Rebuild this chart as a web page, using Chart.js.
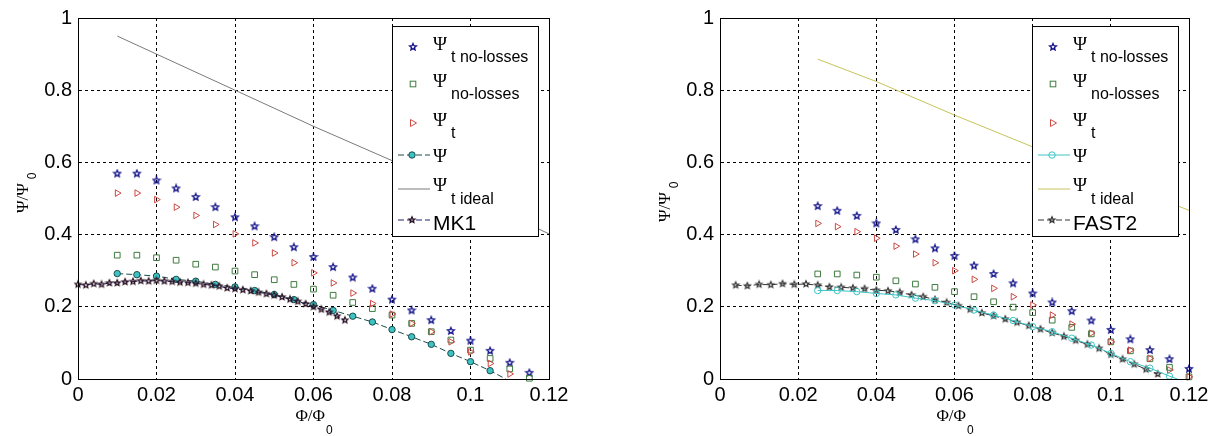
<!DOCTYPE html>
<html>
<head>
<meta charset="utf-8">
<script src="https://cdn.jsdelivr.net/npm/chart.js@4.4.0/dist/chart.umd.min.js"></script>
<style>
  body { margin: 0; background: #fff; }
  .box { position: absolute; top: 0; width: 608px; height: 436px; }
</style>
</head>
<body>
<div class="box" style="left:0"><canvas id="left" width="608" height="436"></canvas></div>
<div class="box" style="left:608px"><canvas id="right" width="608" height="436"></canvas></div>
<script>
// ---- data ----
// left panel (MK1)
const xLeft = [0.01, 0.015, 0.02, 0.025, 0.03, 0.035, 0.04, 0.045, 0.05, 0.055, 0.06,
  0.065, 0.07, 0.075, 0.08, 0.085, 0.09, 0.095, 0.1, 0.105, 0.11, 0.115];
const leftTNoLoss = [0.569, 0.569, 0.55, 0.528, 0.504, 0.476, 0.448, 0.423, 0.393, 0.365, 0.338,
  0.31, 0.281, 0.25, 0.22, 0.19, 0.163, 0.133, 0.106, 0.078, 0.045, 0.017];
const leftNoLoss = [0.343, 0.343, 0.336, 0.329, 0.318, 0.31, 0.299, 0.289, 0.275, 0.262, 0.249,
  0.232, 0.212, 0.195, 0.177, 0.154, 0.131, 0.108, 0.08, 0.057, 0.028, 0.002];
const leftT = [0.515, 0.515, 0.497, 0.476, 0.453, 0.428, 0.402, 0.377, 0.349, 0.322, 0.294,
  0.266, 0.238, 0.209, 0.18, 0.154, 0.131, 0.103, 0.075, 0.043, 0.014];
const xLeftPsi = [0.01, 0.015, 0.02, 0.025, 0.03, 0.035, 0.04, 0.045, 0.05, 0.055, 0.06,
  0.065, 0.07, 0.075, 0.08, 0.085, 0.09, 0.095, 0.1, 0.105, 0.109];
const leftPsi = [0.292, 0.289, 0.285, 0.276, 0.271, 0.262, 0.255, 0.245, 0.234, 0.22, 0.206,
  0.19, 0.174, 0.158, 0.137, 0.117, 0.096, 0.071, 0.048, 0.023, 0];
const xLeftIdeal = [0.01, 0.02, 0.04, 0.06, 0.08, 0.1, 0.12];
const leftIdeal = [0.95, 0.9, 0.8, 0.7, 0.605, 0.505, 0.402];
const xMK1 = [0, 0.002, 0.004, 0.006, 0.008, 0.01, 0.012, 0.014, 0.016, 0.018, 0.02, 0.022,
  0.024, 0.026, 0.028, 0.03, 0.032, 0.034, 0.036, 0.038, 0.04, 0.042, 0.044, 0.046, 0.048,
  0.05, 0.052, 0.054, 0.056, 0.058, 0.06, 0.062, 0.064, 0.066, 0.068];
const yMK1 = [0.262, 0.26, 0.264, 0.262, 0.266, 0.266, 0.269, 0.27, 0.272, 0.271, 0.273, 0.271,
  0.27, 0.268, 0.267, 0.265, 0.262, 0.26, 0.257, 0.252, 0.25, 0.247, 0.244, 0.24, 0.236,
  0.232, 0.227, 0.221, 0.215, 0.208, 0.2, 0.193, 0.185, 0.174, 0.163];

// right panel (FAST2)
const xRight = [0.025, 0.03, 0.035, 0.04, 0.045, 0.05, 0.055, 0.06, 0.065, 0.07, 0.075,
  0.08, 0.085, 0.09, 0.095, 0.1, 0.105, 0.11, 0.115, 0.12];
const rightTNoLoss = [0.479, 0.466, 0.452, 0.431, 0.413, 0.387, 0.362, 0.341, 0.314, 0.291, 0.265,
  0.237, 0.212, 0.188, 0.162, 0.136, 0.11, 0.08, 0.055, 0.028];
const rightNoLoss = [0.291, 0.291, 0.288, 0.282, 0.272, 0.263, 0.254, 0.242, 0.228, 0.214, 0.199,
  0.184, 0.163, 0.143, 0.125, 0.103, 0.078, 0.056, 0.032, 0.006];
const rightT = [0.431, 0.422, 0.408, 0.39, 0.368, 0.346, 0.322, 0.3, 0.276, 0.251, 0.228,
  0.205, 0.177, 0.152, 0.127, 0.103, 0.08, 0.057, 0.025, 0.006];
const xRightPsi = [0.025, 0.03, 0.035, 0.04, 0.045, 0.05, 0.055, 0.06, 0.065, 0.07, 0.075,
  0.08, 0.085, 0.09, 0.095, 0.1, 0.105, 0.11, 0.115, 0.117];
const rightPsi = [0.245, 0.245, 0.242, 0.237, 0.233, 0.224, 0.217, 0.205, 0.191, 0.177, 0.162,
  0.145, 0.131, 0.113, 0.094, 0.071, 0.048, 0.03, 0.008, 0];
const xRightIdeal = [0.025, 0.04, 0.06, 0.08, 0.1, 0.12];
const rightIdeal = [0.886, 0.824, 0.731, 0.643, 0.555, 0.467];
const xFAST2 = [0.004, 0.007, 0.01, 0.013, 0.016, 0.019, 0.022, 0.025, 0.028, 0.031, 0.034,
  0.037, 0.04, 0.043, 0.046, 0.049, 0.052, 0.055, 0.058, 0.061, 0.064, 0.067, 0.07, 0.073,
  0.076, 0.079, 0.082, 0.085, 0.088, 0.091, 0.094, 0.097, 0.1, 0.103, 0.106, 0.109, 0.112];
const yFAST2 = [0.26, 0.258, 0.262, 0.261, 0.264, 0.262, 0.263, 0.26, 0.255, 0.254, 0.252,
  0.25, 0.246, 0.244, 0.24, 0.233, 0.228, 0.22, 0.212, 0.203, 0.193, 0.183, 0.175, 0.166,
  0.157, 0.148, 0.138, 0.128, 0.118, 0.107, 0.096, 0.085, 0.068, 0.055, 0.041, 0.027, 0.014];

const xTicks = [0, 0.02, 0.04, 0.06, 0.08, 0.1, 0.12];
const yTicks = [0, 0.2, 0.4, 0.6, 0.8, 1];
const legendSubs = ['t no-losses', 'no-losses', 't', '', 't ideal'];

const SANS = '"Liberation Sans", Arial, sans-serif';
const SERIF = '"Liberation Serif", "Times New Roman", serif';

function pts(xs, ys) {
  return ys.map((y, i) => ({ x: xs[i], y: y }));
}

// little outlined pentagram used as point style
function makeStar(color, r, lw) {
  const s = Math.ceil(r * 2 + 3);
  const c = document.createElement('canvas');
  c.width = s; c.height = s;
  const g = c.getContext('2d');
  g.strokeStyle = color;
  g.lineWidth = lw || 1;
  g.beginPath();
  for (let i = 0; i < 10; i++) {
    const a = -Math.PI / 2 + i * Math.PI / 5;
    const rr = i % 2 ? r * 0.45 : r;
    const px = s / 2 + rr * Math.cos(a), py = s / 2 + rr * Math.sin(a);
    if (i) g.lineTo(px, py); else g.moveTo(px, py);
  }
  g.closePath();
  g.stroke();
  return c;
}

const BLUE = '#12128a', GREEN = '#3f7a3f', RED = '#cc4a44', CYAN = '#3cc4c4';

function buildDatasets(side) {
  const L = side === 'left';
  const ds = [];
  ds.push({ label: 't no-losses', data: pts(L ? xLeft : xRight, L ? leftTNoLoss : rightTNoLoss),
    pointStyle: makeStar(BLUE, 3.5, 1.3), showLine: false, order: 5, clip: false, _sym: 'star', _color: BLUE });
  ds.push({ label: 'no-losses', data: pts(L ? xLeft : xRight, L ? leftNoLoss : rightNoLoss),
    pointStyle: 'rect', pointRadius: 4, borderColor: GREEN, backgroundColor: 'rgba(0,0,0,0)',
    borderWidth: 1, showLine: false, order: 4, clip: false, _sym: 'rect', _color: GREEN });
  ds.push({ label: 't', data: pts(L ? xLeft : xRight, L ? leftT : rightT),
    pointStyle: 'triangle', rotation: 90, pointRadius: 3.8, borderColor: RED,
    backgroundColor: 'rgba(0,0,0,0)', borderWidth: 1, showLine: false, order: 3, clip: false,
    _sym: 'tri', _color: RED });
  const psiX = L ? xLeftPsi : xRightPsi;
  ds.push({ label: 'psi', data: pts(psiX, L ? leftPsi : rightPsi),
    pointStyle: 'circle', pointRadius: psiX.map((v, i) => i === psiX.length - 1 ? 0 : 3.2),
    borderColor: L ? '#1e4a4a' : CYAN, pointBorderColor: L ? '#1e4a4a' : CYAN,
    pointBackgroundColor: L ? CYAN : 'rgba(0,0,0,0)', backgroundColor: L ? CYAN : 'rgba(0,0,0,0)',
    showLine: true, borderWidth: 1, borderDash: L ? [6, 3] : [], order: 2, clip: false,
    _sym: 'circleLine', _color: L ? '#1e4a4a' : CYAN, _fill: L ? CYAN : null });
  ds.push({ label: 'ideal', data: pts(L ? xLeftIdeal : xRightIdeal, L ? leftIdeal : rightIdeal),
    pointRadius: 0, borderColor: L ? '#7a7a7a' : '#c6c45a', borderWidth: 1, showLine: true,
    order: 6, _sym: 'line', _color: L ? '#7a7a7a' : '#c6c45a' });
  const starCol = L ? '#2a1020' : '#383838';
  ds.push({ label: L ? 'MK1' : 'FAST2', data: pts(L ? xMK1 : xFAST2, L ? yMK1 : yFAST2),
    pointStyle: makeStar(starCol, 3.2, 1.2), showLine: true,
    borderColor: L ? '#20206a' : '#333333', borderWidth: 1, borderDash: [6, 3],
    order: L ? 1 : 7, clip: false, _sym: 'starLine', _color: L ? '#20206a' : '#333333',
    _star: makeStar(starCol, 3.2, 1.2) });
  return ds;
}

function drawSym(ctx, d, x, y) {
  ctx.save();
  ctx.lineWidth = 1;
  ctx.strokeStyle = d._color;
  if (d._sym === 'star') {
    const im = d.pointStyle;
    ctx.drawImage(im, Math.round(x - im.width / 2), Math.round(y - im.height / 2));
  } else if (d._sym === 'rect') {
    ctx.strokeRect(x - 2.8, y - 2.8, 5.6, 5.6);
  } else if (d._sym === 'tri') {
    ctx.beginPath();
    ctx.moveTo(x + 3.5, y); ctx.lineTo(x - 2.5, y - 3.5); ctx.lineTo(x - 2.5, y + 3.5);
    ctx.closePath(); ctx.stroke();
  } else {
    ctx.setLineDash(d.borderDash || []);
    ctx.beginPath(); ctx.moveTo(x - 15, y); ctx.lineTo(x + 17, y); ctx.stroke();
    ctx.setLineDash([]);
    if (d._sym === 'circleLine') {
      ctx.beginPath(); ctx.arc(x - 1, y, 3.2, 0, Math.PI * 2);
      if (d._fill) { ctx.fillStyle = d._fill; ctx.fill(); }
      ctx.stroke();
    } else if (d._sym === 'starLine') {
      const im = d._star;
      ctx.drawImage(im, Math.round(x - 1 - im.width / 2), Math.round(y - im.height / 2));
    }
  }
  ctx.restore();
}

// legend, axis titles and the solid frame, drawn on top of the plot
const decorPlugin = {
  id: 'decor',
  afterDraw(chart) {
    const ctx = chart.ctx;
    const a = chart.chartArea;
    const side = chart.canvas.id;
    ctx.save();
    // frame
    ctx.strokeStyle = '#000';
    ctx.lineWidth = 1;
    ctx.strokeRect(Math.round(a.left) + 0.5, Math.round(a.top) + 0.5,
      Math.round(a.right - a.left), Math.round(a.bottom - a.top));

    // legend box
    const L = Math.round(a.right) - 157, T = 26, W = 146, H = 210;
    ctx.fillStyle = '#fff';
    ctx.fillRect(L, T, W, H);
    ctx.strokeStyle = '#000';
    ctx.strokeRect(L + 0.5, T + 0.5, W, H);
    const rows = [21, 58, 97, 129, 163, 194];
    const dsets = chart.data.datasets;
    const order = [0, 1, 2, 3, 4, 5];
    order.forEach((k, r) => {
      const d = dsets[k];
      const y = T + rows[r];
      drawSym(ctx, d, L + 21, y);
      ctx.fillStyle = '#000';
      ctx.textBaseline = 'alphabetic';
      ctx.textAlign = 'left';
      if (k === 5) {
        ctx.font = '21px ' + SANS;
        ctx.fillText(d.label, L + 41, y + 10);
        return;
      }
      ctx.font = '19px ' + SERIF;
      const base = k === 3 ? y + 7 : (k === 4 ? y + 2 : y + 3);
      ctx.fillText('\u03A8', L + 41, base);
      if (legendSubs[k]) {
        ctx.font = '16px ' + SANS;
        ctx.fillText(legendSubs[k], L + 59, y + 15);
      }
    });

    // x title: Φ/Φ0
    ctx.fillStyle = '#000';
    const cx = (a.left + a.right) / 2;
    ctx.font = '17px ' + SERIF;
    const w1 = ctx.measureText('\u03A6/\u03A6').width;
    ctx.font = '12px ' + SANS;
    const w2 = ctx.measureText('0').width;
    let sx = cx - (w1 + w2) / 2;
    ctx.font = '17px ' + SERIF;
    ctx.fillText('\u03A6/\u03A6', sx, 421);
    ctx.font = '12px ' + SANS;
    ctx.fillText('0', sx + w1 + 1, 434);

    // y title: Ψ/Ψ0, rotated
    ctx.save();
    ctx.translate(a.left - 50, side === 'left' ? 213 : 222);
    ctx.rotate(-Math.PI / 2);
    ctx.font = '17px ' + SERIF;
    ctx.fillText('\u03A8/\u03A8', 0, 0);
    const wy = ctx.measureText('\u03A8/\u03A8').width;
    ctx.font = '12px ' + SANS;
    ctx.fillText('0', wy + 4, 8);
    ctx.restore();

    ctx.restore();
  }
};

function makeChart(id, padLeftAxis, padTop, padRight) {
  return new Chart(document.getElementById(id), {
    type: 'scatter',
    data: { datasets: buildDatasets(id) },
    options: {
      responsive: false,
      animation: false,
      layout: { padding: { left: 0, top: padTop, right: padRight, bottom: 0 } },
      plugins: { legend: { display: false }, tooltip: { enabled: false } },
      scales: {
        x: {
          type: 'linear', min: 0, max: 0.12,
          afterBuildTicks: s => { s.ticks = xTicks.map(v => ({ value: v })); },
          afterFit: s => { s.height = 57; },
          grid: { color: '#000', lineWidth: 1, drawTicks: false },
          border: { display: true, color: '#000', dash: [3, 3] },
          ticks: { padding: 4, color: '#000', font: { size: 20, family: SANS },
            maxRotation: 0, callback: v => String(+v.toFixed(3)) }
        },
        y: {
          type: 'linear', min: 0, max: 1,
          afterBuildTicks: s => { s.ticks = yTicks.map(v => ({ value: v })); },
          afterFit: s => { s.width = padLeftAxis; },
          grid: { color: '#000', lineWidth: 1, drawTicks: false },
          border: { display: true, color: '#000', dash: [3, 3] },
          ticks: { padding: 6, color: '#000', font: { size: 20, family: SANS },
            callback: v => String(+v.toFixed(3)) }
        }
      }
    },
    plugins: [decorPlugin]
  });
}

makeChart('left', 78, 17, 59);
makeChart('right', 112, 18, 27);
</script>
</body>
</html>
